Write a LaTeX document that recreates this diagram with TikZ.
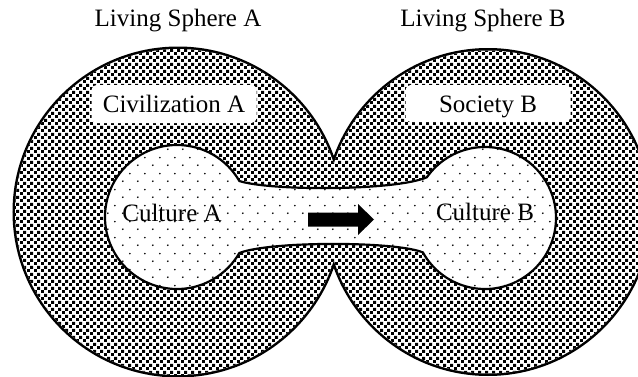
\documentclass[tikz,border=0pt]{standalone}
\usepackage{fontspec}
\setmainfont{Liberation Serif}
\usetikzlibrary{patterns}
\pgfdeclarepatternformonly{halftone}{\pgfqpoint{0pt}{0pt}}{\pgfqpoint{6.6pt}{6.6pt}}{\pgfqpoint{6.6pt}{6.6pt}}{%
  \pgfpathrectangle{\pgfqpoint{0.1pt}{0.1pt}}{\pgfqpoint{3pt}{3pt}}%
  \pgfpathrectangle{\pgfqpoint{3.4pt}{3.4pt}}{\pgfqpoint{3pt}{3pt}}%
  \pgfusepath{fill}}
\pgfdeclarepatternformonly{finedots}{\pgfqpoint{0pt}{0pt}}{\pgfqpoint{15pt}{16pt}}{\pgfqpoint{15pt}{16pt}}{%
  \pgfpathcircle{\pgfqpoint{3pt}{4pt}}{1pt}%
  \pgfpathcircle{\pgfqpoint{10.5pt}{12pt}}{1pt}%
  \pgfusepath{fill}}
\tikzset{
  lbl/.style={font=\fontsize{25}{30}\selectfont, inner sep=0pt},
  namebox/.style={lbl, fill=white, rounded corners=5pt, minimum width=165pt,
    minimum height=38pt, text height=17pt, text depth=0pt},
  outerline/.style={line width=5pt},
  innerline/.style={line width=2.2pt},
}
\begin{document}
\begin{tikzpicture}[x=1pt,y=1pt]
\useasboundingbox (0,0) rectangle (638,376);
\fill[white] (0,0) rectangle (638,376);
% outer living spheres (union outline trick)
\draw[outerline] (178,164) circle[radius=163] (488,164) circle[radius=161.5];
\fill[white] (178,164) circle[radius=163] (488,164) circle[radius=161.5];
\fill[pattern=halftone] (178,164) circle[radius=163] (488,164) circle[radius=161.5];
% inner culture region
\path[fill=white] (239.35,195) arc[start angle=30, end angle=330, radius=72]
  .. controls (270,135) and (395,135) .. (422.90,123.58)
  arc[start angle=209, end angle=505, radius=71]
  .. controls (395,185) and (270,185) .. cycle;
\draw[innerline, pattern=finedots] (239.35,195) arc[start angle=30, end angle=330, radius=72]
  .. controls (270,135) and (395,135) .. (422.90,123.58)
  arc[start angle=209, end angle=505, radius=71]
  .. controls (395,185) and (270,185) .. cycle;
% arrow
\fill[black] (308,149.5) -- (358,149.5) -- (358,141) -- (374,156.5) -- (358,172)
  -- (358,163.5) -- (308,163.5) -- cycle;
% labels
\node[lbl, anchor=base] (lsa) at (178,349) {Living Sphere A};
\node[lbl, anchor=base] (lsb) at (483,349) {Living Sphere B};
\node[namebox] (civ) at (174,272) {Civilization A};
\node[namebox, minimum height=37pt] (soc) at (488,272.5) {Society B};
\node[lbl, anchor=base] (cula) at (172,155) {Culture A};
\node[lbl, anchor=base] (culb) at (485,156) {Culture B};
\end{tikzpicture}
\end{document}
